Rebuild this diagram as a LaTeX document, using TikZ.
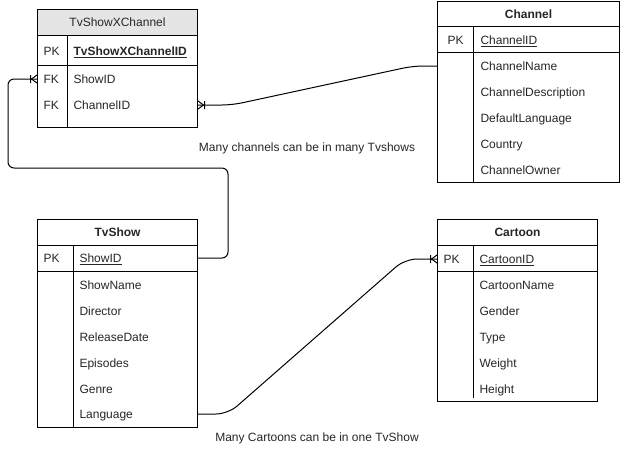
\documentclass[tikz,border=0pt]{standalone}
\usepackage{fontspec}
\setmainfont{Liberation Sans}

% crow's foot with a bar (one or many)
\pgfdeclarearrow{
  name = crowfoot,
  setup code = {
    \pgfarrowssettipend{0pt}
    \pgfarrowssetlineend{0pt}
    \pgfarrowssetbackend{-7pt}
    \pgfarrowshullpoint{0pt}{4pt}
    \pgfarrowshullpoint{0pt}{-4pt}
    \pgfarrowshullpoint{-7pt}{4pt}
    \pgfarrowshullpoint{-7pt}{-4pt}
  },
  drawing code = {
    \pgfsetdash{}{0pt}
    \pgfpathmoveto{\pgfqpoint{0pt}{4pt}}
    \pgfpathlineto{\pgfqpoint{-5.5pt}{0pt}}
    \pgfpathlineto{\pgfqpoint{0pt}{-4pt}}
    \pgfpathmoveto{\pgfqpoint{-6.5pt}{4pt}}
    \pgfpathlineto{\pgfqpoint{-6.5pt}{-4pt}}
    \pgfusepathqstroke
  }
}

\begin{document}
\fontsize{12}{14}\selectfont
\begin{tikzpicture}[x=1pt,y=-1pt,line width=1pt,
		tbl/.style={draw, inner sep=0pt, anchor=north west, text=black!85},
		head/.style={font=\bfseries},
		key/.style={anchor=base west, inner sep=0pt, text=black!85, yshift=-4.3pt},
		field/.style={anchor=base west, inner sep=0pt, text=black!85, yshift=-4.3pt},
		link/.style={draw, rounded corners=10pt, -crowfoot}]
		\useasboundingbox (0,0) rectangle (620,448);

		% TvShowXChannel
		\node[tbl, fill=gray!20, minimum width=160pt, minimum height=26pt] (xcHead) at (37,9) {TvShowXChannel};
		\node[tbl, minimum width=160pt, minimum height=118pt] (xc) at (37,9) {};
		\draw[-] (37,65) -- (197,65);
		\draw[-] (67.5,35) -- (67.5,127);

		\node[key] (xcPK) at (43,51) {PK};
		\node[field] (xcId) at (73,51) {\textbf{\underline{TvShowXChannelID}}};
		\node[key] (xcFK1) at (43,79) {FK};
		\node[field] (xcShow) at (73,79) {ShowID};
		\node[key] (xcFK2) at (43,105) {FK};
		\node[field] (xcChan) at (73,105) {ChannelID};

		% Channel
		\node[tbl, head, minimum width=182pt, minimum height=25pt] (chHead) at (437,1) {Channel};
		\node[tbl, minimum width=182pt, minimum height=181pt] (ch) at (437,1) {};
		\draw[-] (437,52) -- (619,52);
		\draw[-] (473,26) -- (473,182);

		\node[key] (chPK) at (447,40) {PK};
		\node[field] (chId) at (480,40) {\underline{ChannelID}};
		\node[field] (chName) at (480,66) {ChannelName};
		\node[field] (chDesc) at (480,92) {ChannelDescription};
		\node[field] (chLang) at (480,118) {DefaultLanguage};
		\node[field] (chCountry) at (480,144) {Country};
		\node[field] (chOwner) at (480,170) {ChannelOwner};

		% TvShow
		\node[tbl, head, minimum width=160pt, minimum height=26pt] (tvHead) at (37,219) {TvShow};
		\node[tbl, minimum width=160pt, minimum height=208pt] (tv) at (37,219) {};
		\draw[-] (37,271) -- (197,271);
		\draw[-] (73,245) -- (73,427);

		\node[key] (tvPK) at (43,258) {PK};
		\node[field] (tvId) at (79,258) {\underline{ShowID}};
		\node[field] (tvName) at (79,285) {ShowName};
		\node[field] (tvDir) at (79,311) {Director};
		\node[field] (tvDate) at (79,337) {ReleaseDate};
		\node[field] (tvEp) at (79,363) {Episodes};
		\node[field] (tvGenre) at (79,389) {Genre};
		\node[field] (tvLang) at (79,414) {Language};

		% Cartoon
		\node[tbl, head, minimum width=160pt, minimum height=26pt] (ctHead) at (437,219) {Cartoon};
		\node[tbl, minimum width=160pt, minimum height=182pt] (ct) at (437,219) {};
		\draw[-] (437,271) -- (597,271);
		\draw[-] (473,245) -- (473,398);

		\node[key] (ctPK) at (443,259) {PK};
		\node[field] (ctId) at (479,259) {\underline{CartoonID}};
		\node[field] (ctName) at (479,285) {CartoonName};
		\node[field] (ctGender) at (479,311) {Gender};
		\node[field] (ctType) at (479,337) {Type};
		\node[field] (ctWeight) at (479,363) {Weight};
		\node[field] (ctHeight) at (479,389) {Height};

		% relations
		\draw[link] ([yshift=4.3pt]chName.base west -| ch.west) -- (413,66) -- (232,105) -- ([yshift=4.3pt]xcChan.base west -| xc.east);
		\draw[link, rounded corners=6pt] ([yshift=4.3pt]tvId.base west -| tv.east) -- (228,258) -- (228,168) -- (8,168) -- (8,79) -- ([yshift=4.3pt]xcShow.base west -| xc.west);
		\draw[link, rounded corners=12pt] ([yshift=4.3pt]tvLang.base west -| tv.east) -- (228,414) -- (405,259) -- ([yshift=4.3pt]ctId.base west -| ct.west);

		\node[text=black!85] (lblChan) at (307,148) {Many channels can be in many Tvshows};
		\node[text=black!85] (lblCart) at (317,438) {Many Cartoons can be in one TvShow};
	\end{tikzpicture}
\end{document}
